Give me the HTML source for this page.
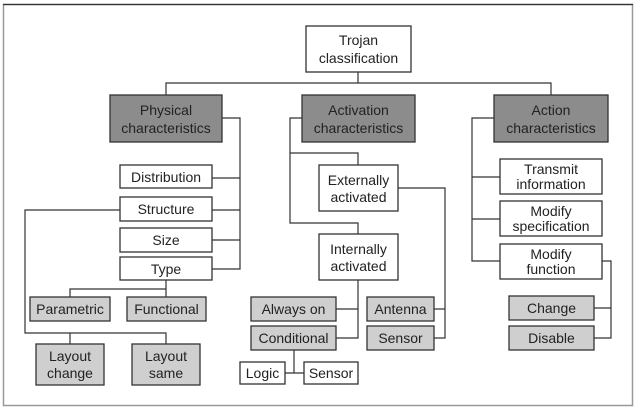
<!DOCTYPE html>
<html><head><meta charset="utf-8"><style>
html,body{margin:0;padding:0;background:#fff;}
svg{display:block;}
text{font-family:"Liberation Sans",Arial,sans-serif;font-size:14px;fill:#222;text-anchor:middle;}
.w{fill:#fff;stroke:#333;stroke-width:1.3;}
.d{fill:#8c8c8c;stroke:#333;stroke-width:1.3;}
.l{fill:#cfcfcf;stroke:#333;stroke-width:1.3;}
.c{stroke:#333;stroke-width:1.2;fill:none;}
</style></head><body>
<svg width="637" height="411" viewBox="0 0 637 411" xmlns="http://www.w3.org/2000/svg">
<rect x="3.5" y="4.5" width="629" height="401" fill="#fff" stroke="#999" stroke-width="1.5"/>
<line x1="3" y1="4.5" x2="633" y2="4.5" stroke="#333" stroke-width="1.3"/>
<!-- connectors -->
<g class="c">
<path d="M358 72V83M166 95V83H551V95"/>
<path d="M222 118H240V269H212M212 178H240M212 210H240M212 240H240"/>
<path d="M166 280V289M70 297V289H166V297"/>
<path d="M120 210H25V333H166V344M70 333V344"/>
<path d="M302 118H290V223H358V234M290 153H358V165"/>
<path d="M398 188H445V338H434M434 309H445"/>
<path d="M358 280V338H336M336 309H358"/>
<path d="M294 350V373M285 373H304"/>
<path d="M494 118H472V261H500M472 177H500M472 219H500"/>
<path d="M602 261H611V338H594M594 308H611"/>
</g>
<!-- boxes -->
<rect class="w" x="306" y="26" width="105" height="46"/>
<text x="358.5" y="45">Trojan</text><text x="358.5" y="63">classification</text>
<rect class="d" x="110" y="95" width="112" height="47"/>
<text x="166" y="115">Physical</text><text x="166" y="133">characteristics</text>
<rect class="d" x="302" y="95" width="113" height="47"/>
<text x="358.5" y="115">Activation</text><text x="358.5" y="133">characteristics</text>
<rect class="d" x="494" y="95" width="114" height="47"/>
<text x="551" y="115">Action</text><text x="551" y="133">characteristics</text>

<rect class="w" x="120" y="165" width="92" height="23"/><text x="166" y="182">Distribution</text>
<rect class="w" x="120" y="197" width="92" height="24"/><text x="166" y="214">Structure</text>
<rect class="w" x="120" y="228" width="92" height="24"/><text x="166" y="245">Size</text>
<rect class="w" x="120" y="257" width="92" height="23"/><text x="166" y="274">Type</text>
<rect class="l" x="30" y="297" width="80" height="24"/><text x="70" y="314">Parametric</text>
<rect class="l" x="127" y="297" width="79" height="24"/><text x="166.5" y="314">Functional</text>
<rect class="l" x="36" y="344" width="68" height="41"/><text x="70" y="361">Layout</text><text x="70" y="378">change</text>
<rect class="l" x="132" y="344" width="68" height="41"/><text x="166" y="361">Layout</text><text x="166" y="378">same</text>

<rect class="w" x="319" y="165" width="79" height="46"/><text x="358.5" y="185">Externally</text><text x="358.5" y="202">activated</text>
<rect class="w" x="319" y="234" width="79" height="46"/><text x="358.5" y="254">Internally</text><text x="358.5" y="271">activated</text>
<rect class="l" x="251" y="297" width="85" height="24"/><text x="293.5" y="314">Always on</text>
<rect class="l" x="251" y="326" width="85" height="24"/><text x="293.5" y="343">Conditional</text>
<rect class="l" x="367" y="297" width="67" height="24"/><text x="400.5" y="314">Antenna</text>
<rect class="l" x="367" y="326" width="67" height="24"/><text x="400.5" y="343">Sensor</text>
<rect class="w" x="240" y="362" width="45" height="22"/><text x="262.5" y="378">Logic</text>
<rect class="w" x="304" y="362" width="54" height="22"/><text x="331" y="378">Sensor</text>

<rect class="w" x="500" y="159" width="102" height="35"/><text x="551" y="174">Transmit</text><text x="551" y="189">information</text>
<rect class="w" x="500" y="201" width="102" height="35"/><text x="551" y="216">Modify</text><text x="551" y="231">specification</text>
<rect class="w" x="500" y="244" width="102" height="35"/><text x="551" y="259">Modify</text><text x="551" y="274">function</text>
<rect class="l" x="509" y="296" width="85" height="24"/><text x="551.5" y="313">Change</text>
<rect class="l" x="509" y="326" width="85" height="24"/><text x="551.5" y="343">Disable</text>
</svg>
</body></html>
